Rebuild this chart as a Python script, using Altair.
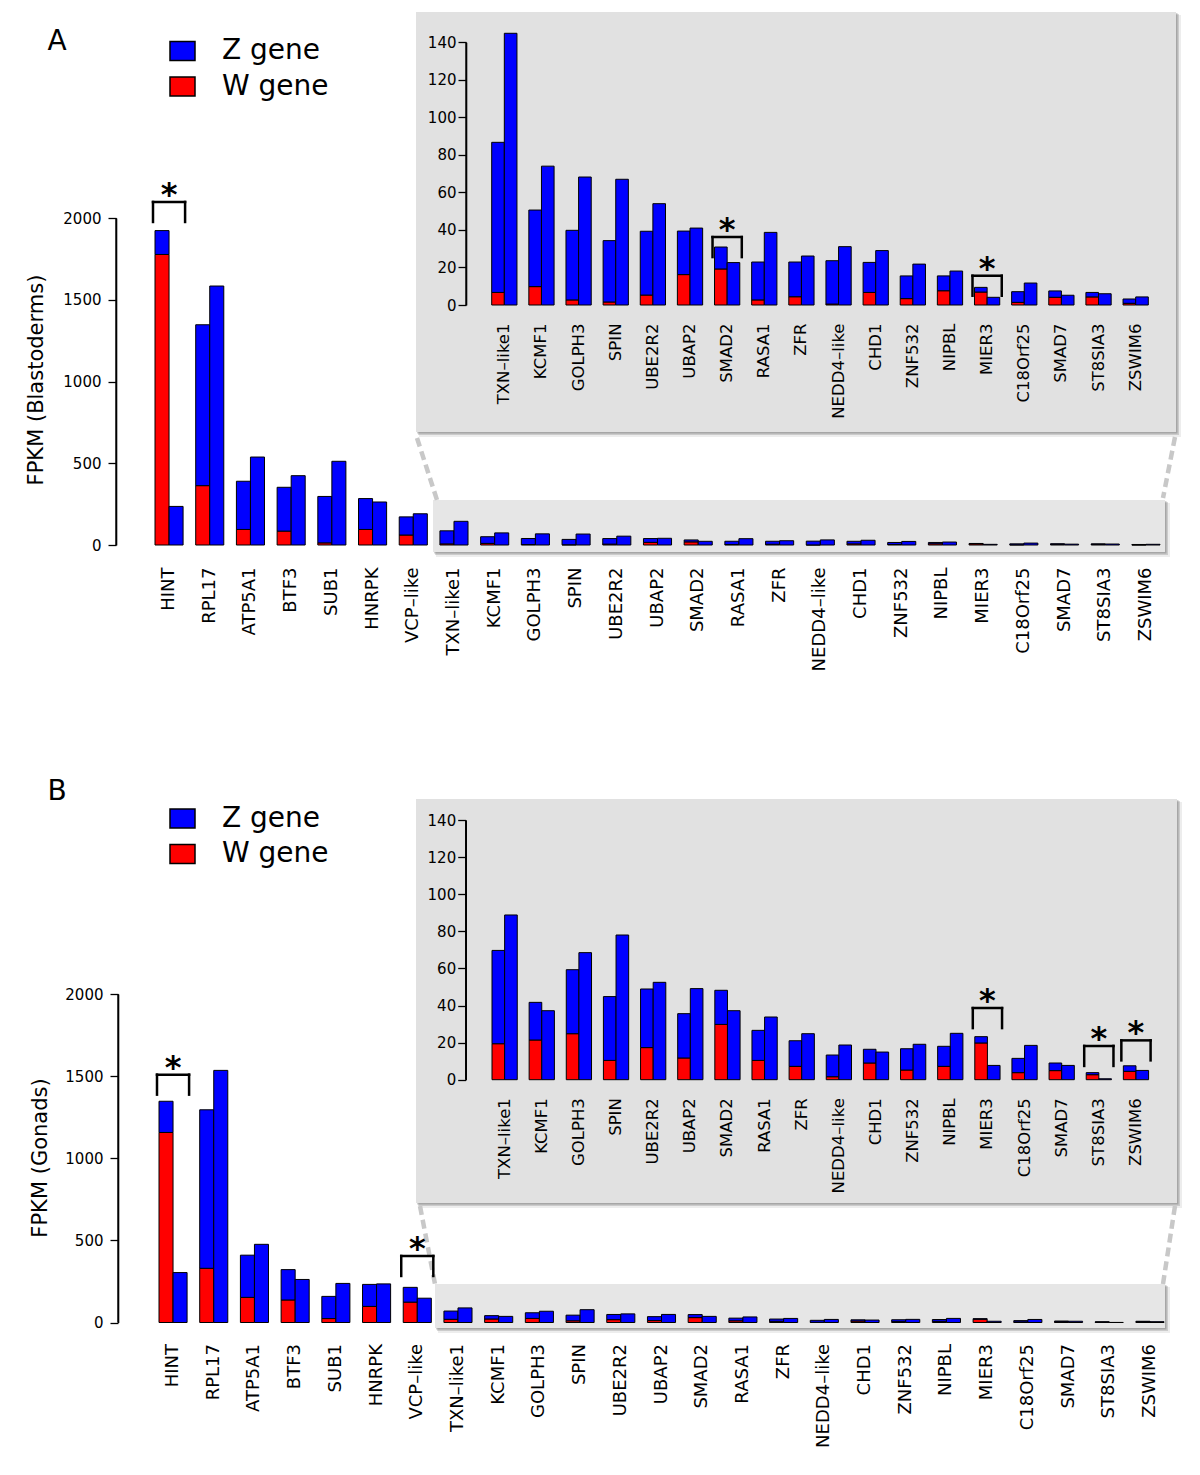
import altair as alt
import pandas as pd

FONT = "DejaVu Sans"
BLUE = "#0000ff"
RED = "#ff0000"

genes = ["HINT", "RPL17", "ATP5A1", "BTF3", "SUB1", "HNRPK", "VCP–like",
         "TXN–like1", "KCMF1", "GOLPH3", "SPIN", "UBE2R2", "UBAP2", "SMAD2",
         "RASA1", "ZFR", "NEDD4–like", "CHD1", "ZNF532", "NIPBL", "MIER3",
         "C18Orf25", "SMAD7", "ST8SIA3", "ZSWIM6"]
inset_genes = genes[7:]

# Panel A (blastoderms), FPKM
a_female_w = [1777, 363, 95, 85, 13, 95, 61, 6.7, 9.8, 2.7, 1.6, 5.3, 16.2, 19.2,
              2.7, 4.4, 0.5, 6.7, 3.4, 7.6, 6.9, 1.4, 4.1, 4.3, 0.9]
a_female_z = [146, 984, 295, 268, 284, 189, 111, 80.0, 40.8, 37.1, 32.7, 34.0, 23.2, 11.7,
              20.2, 18.5, 23.1, 16.0, 12.1, 7.9, 2.5, 5.7, 3.4, 2.4, 2.3]
a_male_z = [236, 1584, 538, 424, 512, 263, 191, 144.8, 74.0, 68.2, 67.0, 54.0, 41.0, 22.6,
            38.7, 26.1, 31.1, 29.0, 21.8, 18.1, 4.1, 11.7, 5.2, 6.0, 4.3]

# Panel B (gonads), FPKM
b_female_w = [1157, 330, 153, 137, 24, 98, 124, 19.4, 21.4, 24.8, 10.4, 17.3, 11.7, 29.8,
              10.4, 7.2, 1.6, 9.0, 5.2, 7.2, 19.8, 3.8, 4.9, 2.7, 4.5]
b_female_z = [190, 965, 257, 185, 135, 134, 90, 50.3, 20.3, 34.5, 34.4, 31.6, 23.9, 18.4,
              16.2, 13.8, 11.7, 7.4, 11.5, 10.8, 3.4, 7.7, 4.1, 1.1, 3.0]
b_male_z = [304, 1535, 476, 262, 238, 235, 148, 88.8, 37.2, 68.5, 78.0, 52.5, 49.1, 37.2,
            33.8, 24.8, 18.7, 14.9, 19.1, 25.0, 7.7, 18.5, 7.7, 0.5, 5.0]

# significance brackets (gene, bracket height)
a_main_sig = ["HINT"]
a_main_sig_top = [2098]
a_inset_sig = ["SMAD2", "MIER3"]
a_inset_sig_top = [36.2, 15.6]
b_main_sig = ["HINT", "VCP–like"]
b_main_sig_top = [1509, 405]
b_inset_sig = ["MIER3", "ST8SIA3", "ZSWIM6"]
b_inset_sig_top = [38.6, 18.2, 21.2]

main_ticks = [0, 500, 1000, 1500, 2000]
inset_ticks = [0, 20, 40, 60, 80, 100, 120, 140]

dummy = pd.DataFrame({"k": [0]})
W = 1184


def bar_frame(gs, fw, fz, mz):
    rows = []
    for g, w, z, m in zip(gs, fw, fz, mz):
        rows.append({"gene": g, "sex": "F", "part": "W gene", "lo": 0.0, "hi": w})
        rows.append({"gene": g, "sex": "F", "part": "Z gene", "lo": w, "hi": w + z})
        rows.append({"gene": g, "sex": "M", "part": "Z gene", "lo": 0.0, "hi": m})
    return pd.DataFrame(rows)


def bar_group(df, sig_genes, sig_tops, domain, xrange, pad_inner, ymax, yrange, yvalues,
              x_axis_offset, x_label_pad, x_label_size, axis_x, y_label_size, y_label_pad):
    xs = alt.Scale(domain=domain, range=xrange, paddingInner=pad_inner, paddingOuter=0)
    ys = alt.Scale(domain=[0, ymax], range=yrange, nice=False)
    xax = alt.Axis(orient="bottom", offset=x_axis_offset, labelAngle=270, labelAlign="right",
                   labelBaseline="middle", labelPadding=x_label_pad, ticks=False, tickSize=0,
                   domain=False, labelFontSize=x_label_size, labelFont=FONT,
                   labelColor="black", title=None, grid=False, zindex=2)
    yax = alt.Axis(orient="left", offset=-axis_x, values=yvalues, format="d",
                   tickSize=8, tickColor="black", tickWidth=1.3, domain=True,
                   domainColor="black", domainWidth=1.6,
                   labelFontSize=y_label_size, labelFont=FONT, labelColor="black",
                   labelPadding=y_label_pad, title=None, grid=False, zindex=2)
    Y = alt.Y("lo:Q", scale=ys, axis=yax)
    bars = alt.Chart(df).mark_bar(stroke="black", strokeWidth=1).encode(
        x=alt.X("gene:N", scale=xs, axis=xax),
        xOffset=alt.XOffset("sex:N", scale=alt.Scale(domain=["F", "M"], paddingInner=0,
                                                     paddingOuter=0)),
        y=Y,
        y2="hi:Q",
        color=alt.Color("part:N", scale=alt.Scale(domain=["Z gene", "W gene"],
                                                  range=[BLUE, RED]), legend=None),
    )
    # axis line drawn through the y scale, from 0 to the top tick
    aline = alt.Chart(pd.DataFrame({"lo": [0.0], "hi": [float(ymax)]})).mark_rule(
        color="black", strokeWidth=1.3).encode(x=alt.value(axis_x), y=Y, y2="hi:Q")
    sig = alt.Chart(pd.DataFrame({"gene": sig_genes, "lo": sig_tops}))
    xl = alt.X("gene:N", bandPosition=0, scale=xs, axis=xax)
    xr = alt.X("gene:N", bandPosition=1, scale=xs, axis=xax)
    hline = sig.mark_rule(color="black", strokeWidth=2.5, xOffset=-2, x2Offset=2,
                          strokeCap="square").encode(
        x=xl, x2=alt.X2("gene:N", bandPosition=1), y=Y)
    lleg = sig.mark_rule(color="black", strokeWidth=2.5, xOffset=-2, y2Offset=20,
                         strokeCap="square").encode(x=xl, y=Y, y2="lo:Q")
    rleg = sig.mark_rule(color="black", strokeWidth=2.5, xOffset=2, y2Offset=20,
                         strokeCap="square").encode(x=xr, y=Y, y2="lo:Q")
    star = sig.mark_text(text="*", fontSize=32, font=FONT, fontWeight="bold", align="center",
                         baseline="alphabetic", dy=3, color="black").encode(
        x=alt.X("gene:N", scale=xs, axis=xax), y=Y)
    return alt.layer(bars, aline, hline, lleg, rleg, star)


def rect(x, y, x2, y2, color, opacity=1.0, stroke=None):
    kw = {}
    if stroke:
        kw = {"stroke": stroke, "strokeWidth": 1.5}
    return alt.Chart(dummy).mark_rect(color=color, opacity=opacity, **kw).encode(
        x=alt.value(x), y=alt.value(y), x2=alt.value(x2), y2=alt.value(y2))


def shadowed_box(x, y, x2, y2, fill):
    return [
        rect(x + 3, y + 3, x2 + 5, y2 + 5, "#000000", 0.07),
        rect(x + 2, y + 2, x2 + 3, y2 + 3, "#000000", 0.14),
        rect(x + 1, y + 1, x2 + 1.5, y2 + 1.5, "#000000", 0.18),
        rect(x, y, x2, y2, fill),
    ]


def dash(x, y, x2, y2):
    return alt.Chart(dummy).mark_rule(color="#c8c8c8", strokeWidth=4.5,
                                      strokeDash=[9, 5]).encode(
        x=alt.value(x), y=alt.value(y), x2=alt.value(x2), y2=alt.value(y2))


def text(t, x, y, size, align="center", angle=0):
    return alt.Chart(dummy).mark_text(text=t, fontSize=size, font=FONT, align=align,
                                      baseline="middle", angle=angle, color="black").encode(
        x=alt.value(x), y=alt.value(y))


def panel(p):
    df_main = bar_frame(genes, p["fw"], p["fz"], p["mz"])
    df_in = bar_frame(inset_genes, p["fw"][7:], p["fz"][7:], p["mz"][7:])
    H = p["H"]
    main = bar_group(df_main, p["msig"], p["msig_top"], genes, p["mx"], 0.31, 2000,
                     p["my"], main_ticks, p["my"][0] - H, p["mpad"], 18,
                     p["max"], 15, 7)
    inset = bar_group(df_in, p["isig"], p["isig_top"], inset_genes, p["ix"], 0.32, 140,
                      p["iy"], inset_ticks, p["iy"][0] - H, 18, 16.5,
                      p["iax"], 15, 2)
    back = []
    back += shadowed_box(*p["box"], "#e1e1e1")
    back += shadowed_box(*p["band"], "#e6e6e6")
    back += [dash(*p["d1"]), dash(*p["d2"])]
    lx0, lx1 = 162, 187
    front = [
        text(p["letter"], 49, p["letter_y"], 28),
        rect(lx0, p["zy"] - 9.5, lx1, p["zy"] + 9.5, BLUE, stroke="black"),
        rect(lx0, p["wy"] - 9.5, lx1, p["wy"] + 9.5, RED, stroke="black"),
        text("Z gene", 214, p["zy"], 28, align="left"),
        text("W gene", 214, p["wy"], 28, align="left"),
        text(p["ytitle"], p["tx"], p["ty"], 21, angle=270),
    ]
    return alt.layer(*back, main, inset, *front).resolve_scale(
        x="independent", y="independent", xOffset="independent"
    ).properties(width=W, height=H)


pa = dict(fw=a_female_w, fz=a_female_z, mz=a_male_z, H=770,
          msig=a_main_sig, msig_top=a_main_sig_top, isig=a_inset_sig, isig_top=a_inset_sig_top,
          mx=[147, 1152], my=[537, 210], mpad=22, max=108,
          ix=[483.7, 1140.3], iy=[297, 34.3], iax=458,
          box=(408, 4, 1168, 424), band=(425, 492, 1157, 544),
          d1=(409, 430, 429, 492), d2=(1167, 429, 1155, 490),
          letter="A", letter_y=34, zy=43, wy=78.5,
          ytitle="FPKM (Blastoderms)", tx=29, ty=372)

pb = dict(fw=b_female_w, fz=b_female_z, mz=b_male_z, H=680,
          msig=b_main_sig, msig_top=b_main_sig_top, isig=b_inset_sig, isig_top=b_inset_sig_top,
          mx=[151, 1156], my=[538.5, 210], mpad=21, max=110,
          ix=[484, 1140.6], iy=[295.7, 36], iax=457.7,
          box=(408, 15, 1169, 419), band=(427, 500, 1157, 544),
          d1=(412, 422, 427, 500), d2=(1167, 422, 1155, 500),
          letter="B", letter_y=8, zy=34.5, wy=70,
          ytitle="FPKM (Gonads)", tx=32.6, ty=374)

chart = alt.vconcat(panel(pa), panel(pb), spacing=0).properties(
    padding=0, background="white"
).configure_view(strokeWidth=0)

chart.save("out.html", embed_options={"renderer": "svg", "actions": False})
